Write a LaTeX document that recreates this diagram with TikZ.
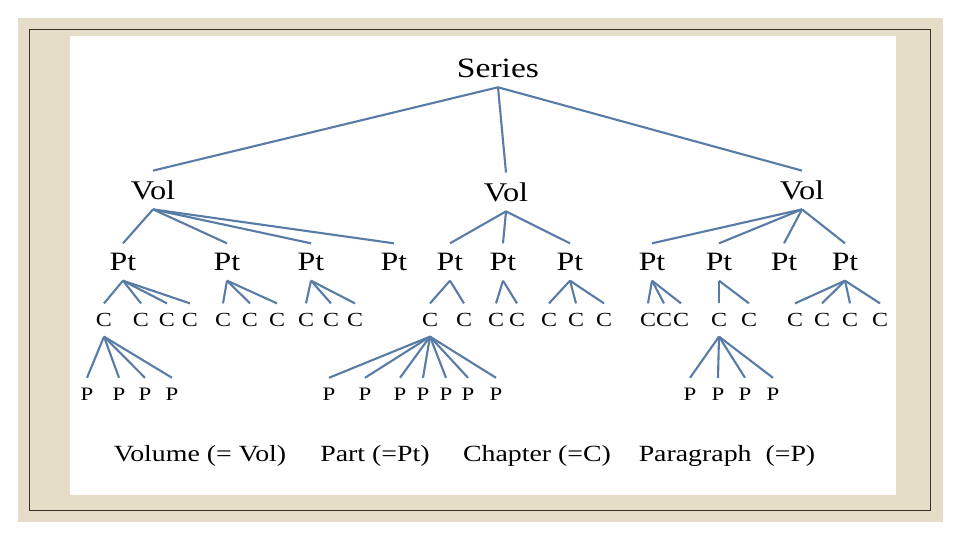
\documentclass[tikz,border=0pt]{standalone}
\usepackage{fontspec}
\setmainfont{Liberation Serif}[FakeStretch=1.2]
\usepackage{tikz}
\definecolor{mat}{RGB}{229,221,199}
\definecolor{rim}{RGB}{58,48,38}
\definecolor{twigblue}{RGB}{88,124,166}

\tikzset{
  lbl/.style={inner sep=0pt, outer sep=10pt, text depth=0pt},
  seriesbox/.style={lbl, font=\fontsize{28}{28}\selectfont},
  volbox/.style={lbl, font=\fontsize{27}{27}\selectfont},
  partbox/.style={lbl, font=\fontsize{26.5}{26.5}\selectfont},
  chapbox/.style={lbl, font=\fontsize{20}{20}\selectfont},
  parabox/.style={lbl, font=\fontsize{19}{19}\selectfont},
  legend/.style={inner sep=0pt, anchor=base, font=\fontsize{23.2}{23.2}\selectfont},
  twig/.style={draw=twigblue, line width=2.1pt}
}
% parent -> children
\newcommand{\fan}[2]{\foreach \kid in {#2} \draw[twig] (#1.south) -- (\kid.north);}

\begin{document}
\begin{tikzpicture}[x=1pt, y=-1pt]
  % frame
  \useasboundingbox (0,0) rectangle (960,540);
  \fill[white] (0,0) rectangle (960,540);
  \fill[mat] (18,18) rectangle (943,522);
  \draw[rim, line width=1pt] (29.5,29.5) rectangle (930,510);
  \fill[white] (70,36) rectangle (896,495);

  % levels
  \pgfmathsetmacro{\ypt}{262}
  \pgfmathsetmacro{\yc}{320}
  \pgfmathsetmacro{\yp}{394}

  % vertices
  \node[seriesbox] (s) at (498,68) {Series};
  \node[volbox] (v1) at (153,190) {Vol};
  \node[volbox] (v2) at (506,192) {Vol};
  \node[volbox] (v3) at (802,190) {Vol};

  \foreach \n/\x in {p1/123, p2/227, p3/311, p4/394, p5/450, p6/503,
                     p7/570, p8/652, p9/719, p10/784, p11/845}
    \node[partbox] (\n) at (\x,\ypt) {Pt};

  \foreach \n/\x in {c1/104, c2/141, c3/167, c4/190, c5/223, c6/250, c7/277,
                     c8/306, c9/331, c10/355, c11/430, c12/464, c13/496,
                     c14/517, c15/549, c16/576, c17/604, c18/648, c19/664,
                     c20/681, c21/719, c22/749, c23/795, c24/822, c25/850,
                     c26/880}
    \node[chapbox] (\n) at (\x,\yc) {C};

  \foreach \n/\x in {a1/87, a2/119, a3/145, a4/172,
                     b1/329, b2/365, b3/400, b4/423, b5/446, b6/468, b7/496,
                     d1/690, d2/718, d3/745, d4/773}
    \node[parabox] (\n) at (\x,\yp) {P};

  % draw diagram
  \fan{s}{v1,v2,v3}
  \fan{v1}{p1,p2,p3,p4}
  \fan{v2}{p5,p6,p7}
  \fan{v3}{p8,p9,p10,p11}
  \fan{p1}{c1,c2,c3,c4}
  \fan{p2}{c5,c6,c7}
  \fan{p3}{c8,c9,c10}
  \fan{p5}{c11,c12}
  \fan{p6}{c13,c14}
  \fan{p7}{c15,c16,c17}
  \fan{p8}{c18,c19,c20}
  \fan{p9}{c21,c22}
  \fan{p11}{c23,c24,c25,c26}
  \fan{c1}{a1,a2,a3,a4}
  \fan{c11}{b1,b2,b3,b4,b5,b6,b7}
  \fan{c21}{d1,d2,d3,d4}

  % legend
  \node[legend] (lvol) at (200,461) {Volume (= Vol)};
  \node[legend] (lpart) at (375,461) {Part (=Pt)};
  \node[legend] (lchap) at (537,461) {Chapter (=C)};
  \node[legend] (lpara) at (727,461) {Paragraph\ \ (=P)};
\end{tikzpicture}
\end{document}
